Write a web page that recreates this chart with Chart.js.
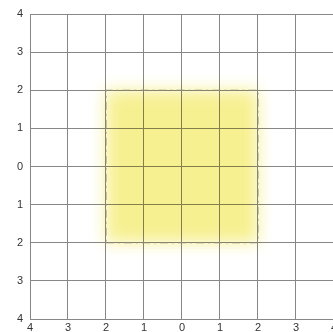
<!DOCTYPE html>
<html>
<head>
<meta charset="utf-8">
<script src="https://cdn.jsdelivr.net/npm/chart.js@4"></script>
<style>
  html, body { margin: 0; padding: 0; background: #fff; overflow: hidden; }
  #wrap { position: absolute; left: 0; top: 0; width: 339px; height: 340px; }
</style>
</head>
<body>
<div id="wrap"><canvas id="chart"></canvas></div>
<script>
const tickValues = [-4, -3, -2, -1, 0, 1, 2, 3, 4];
const squareX = [-2, 2, 2, -2, -2];
const squareY = [-2, -2, 2, 2, -2];

function squarePoints() {
    return squareX.map((x, i) => ({ x: x, y: squareY[i] }));
}

// blur + multiply for the yellow square (fill dataset is drawn first)
const glowPlugin = {
    id: 'glow',
    beforeDatasetsDraw(chart) {
        chart.ctx.save();
        chart.ctx.filter = 'blur(8px)';
        chart.ctx.globalCompositeOperation = 'multiply';
    },
    afterDatasetDraw(chart, args) {
        if (args.index === 0) {
            chart.ctx.restore();
        }
    }
};

const gridOpts = {
    color: '#878787',
    lineWidth: 1,
    drawTicks: false
};

const ctx = document.getElementById('chart').getContext('2d');
const chart = new Chart(ctx, {
    type: 'line',
    data: {
        datasets: [
            {
                data: squarePoints(),
                fill: 'shape',
                backgroundColor: 'rgb(247, 240, 145)',
                borderColor: 'rgba(0,0,0,0)',
                borderWidth: 0,
                pointRadius: 0,
                tension: 0,
                order: 2
            },
            {
                data: squarePoints(),
                fill: false,
                borderColor: '#8a8a7a',
                borderWidth: 1,
                borderDash: [8, 4, 2, 4],
                pointRadius: 0,
                tension: 0,
                order: 1
            }
        ]
    },
    options: {
        responsive: true,
        maintainAspectRatio: false,
        animation: false,
        layout: { padding: { top: 14, right: 0, left: 0, bottom: 0 } },
        plugins: {
            legend: { display: false },
            tooltip: { enabled: false }
        },
        scales: {
            x: {
                type: 'linear',
                min: -4,
                max: 4,
                afterBuildTicks: (axis) => { axis.ticks = tickValues.map(v => ({ value: v })); },
                ticks: {
                    color: '#333',
                    font: { family: 'Liberation Sans', size: 11 },
                    padding: 2,
                    maxRotation: 0,
                    callback: (v) => Math.abs(v)
                },
                grid: gridOpts,
                border: { color: '#878787' },
                afterFit: (axis) => { axis.height = 21; }
            },
            y: {
                type: 'linear',
                min: -4,
                max: 4,
                afterBuildTicks: (axis) => { axis.ticks = tickValues.map(v => ({ value: v })); },
                ticks: {
                    color: '#333',
                    font: { family: 'Liberation Sans', size: 11 },
                    padding: 7,
                    callback: (v) => Math.abs(v)
                },
                grid: gridOpts,
                border: { color: '#878787' },
                afterFit: (axis) => { axis.width = 30; }
            }
        }
    },
    plugins: [glowPlugin]
});
</script>
</body>
</html>
